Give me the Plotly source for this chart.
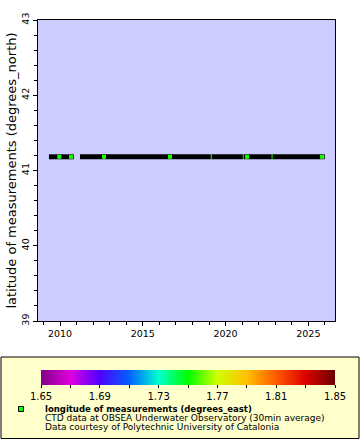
import plotly.graph_objects as go

# ---------------- data ----------------
station_lat = 41.182
# continuous sampling periods (start, end)
segment_starts = ["2009-05-01", "2011-03-18"]
segment_ends = ["2010-10-31", "2025-12-29"]
# isolated points visible as coloured squares
point_dates = ["2009-12-16", "2010-08-31", "2012-08-28", "2016-08-23",
               "2021-04-20", "2025-10-30"]
point_lons = [1.7525, 1.7525, 1.7525, 1.7525, 1.7525, 1.7525]
# partially hidden points (thin slivers)
thin_dates = ["2019-02-21", "2021-01-26", "2022-10-23"]
thin_lons = [1.7525, 1.7525, 1.7525]

cb_tickvals = [1.65, 1.67, 1.69, 1.71, 1.73, 1.75, 1.77, 1.79, 1.81, 1.83, 1.85]
cb_ticktext = ["1.65", "", "1.69", "", "1.73", "", "1.77", "", "1.81", "", "1.85"]

legend_title = "longitude of measurements (degrees_east)"
legend_lines = ["CTD data at OBSEA Underwater Observatory (30min average)",
                "Data courtesy of Polytechnic University of Catalonia"]
y_title = "latitude of measurements (degrees_north)"

rainbow = [[0.0, "#80008a"], [0.1, "#e000e0"], [0.2, "#5000ff"], [0.3, "#0060ff"],
           [0.4, "#00ffd0"], [0.5, "#00ff00"], [0.6, "#d0ff00"], [0.7, "#ffc000"],
           [0.8, "#ff5a00"], [0.9, "#dd0000"], [1.0, "#6a0000"]]

FONT = "DejaVu Sans"
W, H = 360, 440
L, R, T, B = 38, 25, 20, 119
PW, PH = W - L - R, H - T - B


def px(xp):
    return (xp - L) / PW


def py(yp):
    return (H - B - yp) / PH


# band of dense markers
seg_x, seg_y = [], []
for s, e in zip(segment_starts, segment_ends):
    seg_x += [s, e, None]
    seg_y += [station_lat, station_lat, None]

fig = go.Figure()
fig.add_trace(go.Scatter(x=seg_x, y=seg_y, mode="lines",
                         line=dict(color="black", width=5),
                         hoverinfo="skip", showlegend=False))
fig.add_trace(go.Scatter(
    x=thin_dates, y=[station_lat] * len(thin_dates), mode="markers",
    marker=dict(symbol="line-ns", size=4,
                line=dict(width=1, color=thin_lons, colorscale=rainbow,
                          cmin=1.65, cmax=1.85)),
    showlegend=False))
fig.add_trace(go.Scatter(
    x=point_dates, y=[station_lat] * len(point_dates), mode="markers",
    marker=dict(symbol="square", size=4, color=point_lons, colorscale=rainbow,
                cmin=1.65, cmax=1.85, line=dict(width=0),
                colorbar=dict(orientation="h", x=px(41), xanchor="left",
                              y=py(369.5), yanchor="top",
                              lenmode="pixels", len=294, thickness=15,
                              xpad=0, ypad=0, outlinewidth=0,
                              tickvals=cb_tickvals, ticktext=cb_ticktext,
                              ticks="outside", ticklen=3, tickcolor="black",
                              tickfont=dict(family=FONT, size=10, color="black"))),
    showlegend=False))

shapes = [
    dict(type="rect", xref="paper", yref="paper",
         x0=px(1), x1=px(359), y0=py(438.5), y1=py(357),
         fillcolor="#ffffcc", line=dict(color="black", width=1), layer="below"),
    dict(type="rect", xref="paper", yref="paper",
         x0=px(18.5), x1=px(23.5), y0=py(411.5), y1=py(406.5),
         fillcolor="#00ff00", line=dict(color="black", width=1), layer="above"),
]

annotations = [
    dict(text="<b>" + legend_title + "</b>", xref="paper", yref="paper",
         x=px(42.5), y=py(409), xanchor="left", yanchor="middle", showarrow=False,
         font=dict(family=FONT, size=8.5, color="black")),
    dict(text=legend_lines[0], xref="paper", yref="paper",
         x=px(42.5), y=py(418), xanchor="left", yanchor="middle", showarrow=False,
         font=dict(family=FONT, size=9, color="black")),
    dict(text=legend_lines[1], xref="paper", yref="paper",
         x=px(42.5), y=py(427), xanchor="left", yanchor="middle", showarrow=False,
         font=dict(family=FONT, size=9, color="black")),
]

fig.update_layout(
    width=W, height=H, margin=dict(l=L, r=R, t=T, b=B, pad=0, autoexpand=False),
    paper_bgcolor="white", plot_bgcolor="#ccccff",
    font=dict(family=FONT, color="black"),
    shapes=shapes, annotations=annotations, showlegend=False,
    xaxis=dict(type="date", range=["2008-09-02", "2026-08-12"], automargin=False,
               tick0="2010-01-01", dtick="M60", tickformat="%Y",
               ticks="outside", ticklen=4, tickcolor="black",
               tickfont=dict(family=FONT, size=9.5, color="black"),
               showgrid=False, zeroline=False,
               showline=True, linecolor="black", linewidth=1, mirror=True,
               minor=dict(dtick="M12", tick0="2010-01-01", ticks="outside",
                          ticklen=3, tickcolor="black", showgrid=False)),
    yaxis=dict(range=[39, 43], tick0=39, dtick=1, tickangle=-90, automargin=False,
               ticks="outside", ticklen=4, tickcolor="black",
               tickfont=dict(family=FONT, size=9.5, color="black"),
               showgrid=False, zeroline=False,
               showline=True, linecolor="black", linewidth=1, mirror=True,
               minor=dict(dtick=0.2, ticks="outside", ticklen=3,
                          tickcolor="black", showgrid=False),
               title=dict(text=y_title, standoff=0,
                          font=dict(family=FONT, size=13, color="black"))),
)

fig.write_html("out.html", post_script="document.body.style.margin='0';",
               config={"displayModeBar": False})
